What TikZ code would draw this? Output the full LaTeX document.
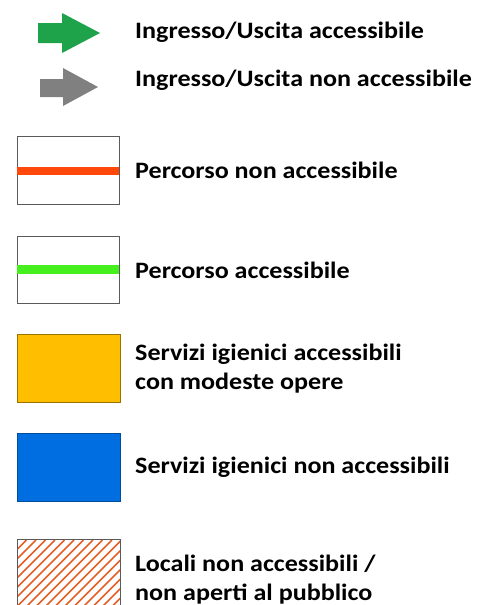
\documentclass[tikz,border=0pt]{standalone}
\usepackage{fontspec}
\setmainfont{Carlito}[FakeStretch=1.11]
\definecolor{arrgreen}{RGB}{30,163,74}
\definecolor{arrgray}{RGB}{128,128,128}
\definecolor{pathred}{RGB}{255,72,10}
\definecolor{pathgreen}{RGB}{70,240,30}
\definecolor{wcorange}{RGB}{255,190,0}
\definecolor{wcblue}{RGB}{0,110,225}
\definecolor{hatchcol}{RGB}{228,95,40}
\definecolor{boxline}{RGB}{90,90,90}
\begin{document}
\begin{tikzpicture}[x=1pt,y=-1pt,
  lbl/.style={anchor=base west,inner sep=0pt,font=\fontsize{23.5}{29}\selectfont\bfseries,align=left,text=black},
  swatch/.style={draw=boxline,line width=0.9pt}]
\useasboundingbox (0,0) rectangle (481,605);
% arrows
\fill[arrgreen] (38,23) -- (62,23) -- (62,13) -- (100,33) -- (62,53) -- (62,43) -- (38,43) -- cycle;
\fill[arrgray] (40,79) -- (63,79) -- (63,68) -- (98,87) -- (63,106) -- (63,97) -- (40,97) -- cycle;
\node[lbl] (t1) at (135,38) {Ingresso/Uscita accessibile};
\node[lbl] (t2) at (135,86) {Ingresso/Uscita non accessibile};
% red path
\draw[swatch] (17,136) rectangle (119,204);
\fill[pathred] (17,167) rectangle (119,175);
\node[lbl] (t3) at (135,178) {Percorso non accessibile};
% green path
\draw[swatch] (17,236) rectangle (119,303);
\fill[pathgreen] (17,265) rectangle (119,274);
\node[lbl] (t4) at (135,278) {Percorso accessibile};
% orange
\filldraw[swatch,fill=wcorange,draw=wcorange!60!black] (17,334) rectangle (120,402);
\node[lbl] (t5) at (135,389) {Servizi igienici accessibili\\con modeste opere};
% blue
\filldraw[swatch,fill=wcblue,draw=wcblue!70!black] (17,433) rectangle (120,501);
\node[lbl] (t6) at (135,473) {Servizi igienici non accessibili};
% hatched
\begin{scope}
\clip (17,539) rectangle (120,606);
\foreach \k in {0,...,22} {
  \draw[hatchcol,line width=1.7pt] ({17+9.5*\k-80},620) -- ({17+9.5*\k},540) ;
}
\end{scope}
\draw[swatch] (17,539) -- (120,539);
\draw[swatch] (17,539) -- (17,606);
\draw[swatch] (120,539) -- (120,606);
\node[lbl] (t7) at (135,600) {Locali non accessibili /\\non aperti al pubblico};
\end{tikzpicture}
\end{document}
